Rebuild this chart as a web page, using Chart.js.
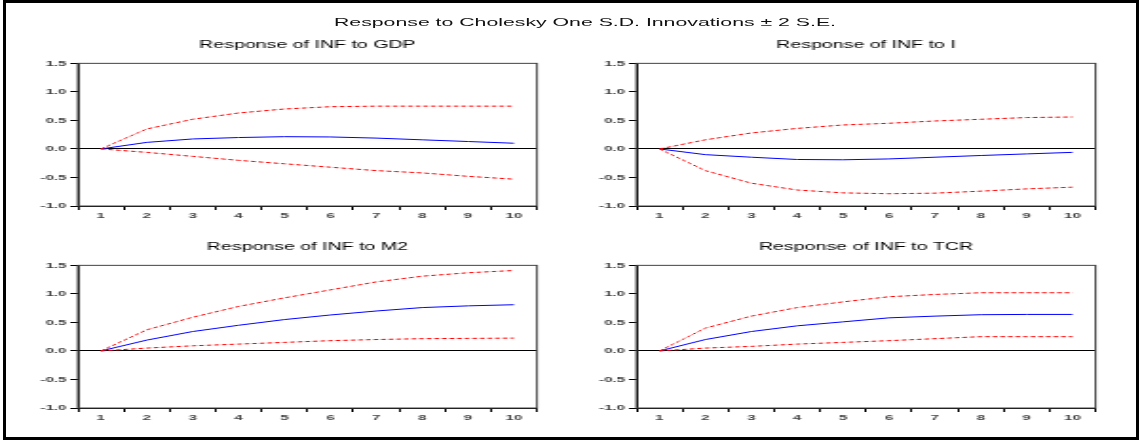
<!DOCTYPE html>
<html>
<head>
<meta charset="utf-8">
<script src="https://cdn.jsdelivr.net/npm/chart.js@4.4.1/dist/chart.umd.min.js"></script>
<style>
  html, body { margin: 0; padding: 0; background: #fff; }
  body { width: 1144px; height: 442px; position: relative; overflow: hidden; }
  #frame { position: absolute; left: 3px; top: 0; width: 1130px; height: 434px; border: 3px solid #000; }
  #stage { position: absolute; left: 0; top: 0; height: 442px; transform-origin: 0 0; }
  #title { position: absolute; top: 16px; white-space: nowrap; transform: translateX(-50%);
           font: 11.2px Arial, "Liberation Sans", sans-serif; color: #111; line-height: 13px; }
  .panel { position: absolute; }
</style>
</head>
<body>
<div id="frame"></div>
<div id="stage">
  <div id="title">Response to Cholesky One S.D. Innovations ± 2 S.E.</div>
</div>
<script>
// horizontal stretch of the original figure
const SX = 1.9;

const periods = ['1', '2', '3', '4', '5', '6', '7', '8', '9', '10'];

// Response of INF to GDP
const gdpResp  = [0, 0.115, 0.175, 0.20, 0.215, 0.21, 0.19, 0.16, 0.13, 0.10];
const gdpUpper = [0, 0.35, 0.52, 0.63, 0.70, 0.74, 0.75, 0.75, 0.75, 0.75];
const gdpLower = [0, -0.06, -0.13, -0.20, -0.26, -0.32, -0.38, -0.42, -0.48, -0.53];

// Response of INF to I
const iResp  = [0, -0.10, -0.145, -0.185, -0.19, -0.175, -0.145, -0.115, -0.087, -0.06];
const iUpper = [0, 0.16, 0.28, 0.36, 0.42, 0.45, 0.49, 0.52, 0.55, 0.56];
const iLower = [0, -0.38, -0.60, -0.72, -0.77, -0.785, -0.775, -0.74, -0.70, -0.67];

// Response of INF to M2
const m2Resp  = [0, 0.19, 0.34, 0.45, 0.55, 0.63, 0.70, 0.76, 0.79, 0.81];
const m2Upper = [0, 0.37, 0.59, 0.78, 0.93, 1.07, 1.21, 1.31, 1.37, 1.41];
const m2Lower = [0, 0.05, 0.09, 0.12, 0.15, 0.18, 0.20, 0.215, 0.22, 0.225];

// Response of INF to TCR
const tcrResp  = [0, 0.20, 0.34, 0.44, 0.51, 0.58, 0.61, 0.635, 0.64, 0.64];
const tcrUpper = [0, 0.40, 0.61, 0.76, 0.86, 0.95, 0.99, 1.02, 1.02, 1.02];
const tcrLower = [0, 0.05, 0.08, 0.12, 0.15, 0.18, 0.215, 0.25, 0.25, 0.25];

const yMin = -1.0, yMax = 1.5, yStep = 0.5;

// plot boxes in page pixels: left, top, right, bottom
const panels = [
  { title: 'Response of INF to GDP', resp: gdpResp, upper: gdpUpper, lower: gdpLower, box: [77, 62.7, 536, 205.7] },
  { title: 'Response of INF to I',   resp: iResp,   upper: iUpper,   lower: iLower,   box: [637, 62.7, 1096, 205.7] },
  { title: 'Response of INF to M2',  resp: m2Resp,  upper: m2Upper,  lower: m2Lower,  box: [77, 265, 536, 408] },
  { title: 'Response of INF to TCR', resp: tcrResp, upper: tcrUpper, lower: tcrLower, box: [637, 265, 1096, 408] }
];

Chart.defaults.font.family = 'Arial, "Liberation Sans", sans-serif';

const stage = document.getElementById('stage');
stage.style.width = (1144 / SX) + 'px';
stage.style.transform = 'scaleX(' + SX + ')';
document.getElementById('title').style.left = (585 / SX) + 'px';

const frameBox = {
  id: 'frameBox',
  afterDraw(chart) {
    const a = chart.chartArea, ctx = chart.ctx;
    ctx.save();
    ctx.strokeStyle = '#444';
    ctx.lineWidth = 1;
    ctx.strokeRect(a.left, a.top, a.right - a.left, a.bottom - a.top);
    ctx.restore();
  }
};

panels.forEach(p => {
  const [x0, y0, x1, y1] = p.box;
  const L = x0 / SX, W = (x1 - x0) / SX;
  const padL = 30, padTop = 4, titleH = 24, axisH = 20;
  const cw = Math.round(W + padL + 27);
  const padR = cw - padL - W;
  const ch = Math.round(y1 - y0 + padTop + titleH + axisH);

  const div = document.createElement('div');
  div.className = 'panel';
  div.style.left = (L - padL) + 'px';
  div.style.top = (y1 + axisH - ch) + 'px';
  const canvas = document.createElement('canvas');
  canvas.width = cw;
  canvas.height = ch;
  div.appendChild(canvas);
  stage.appendChild(div);

  const red = { borderColor: '#ff0000', borderWidth: 1, borderDash: [2.5, 1.5], pointRadius: 0, tension: 0, fill: false };

  new Chart(canvas, {
    type: 'line',
    data: {
      labels: periods,
      datasets: [
        Object.assign({ label: 'upper', data: p.upper }, red),
        Object.assign({ label: 'lower', data: p.lower }, red),
        { label: 'response', data: p.resp, borderColor: '#0000ff', borderWidth: 1, pointRadius: 0, tension: 0, fill: false }
      ]
    },
    options: {
      responsive: false,
      animation: false,
      events: [],
      layout: { padding: { top: padTop, right: padR, bottom: 0, left: 0 } },
      plugins: {
        legend: { display: false },
        tooltip: { enabled: false },
        title: {
          display: true,
          fullSize: false,
          text: p.title,
          color: '#000',
          font: { size: 10.3, weight: 'normal' },
          padding: { top: 0, bottom: 12 }
        }
      },
      scales: {
        x: {
          type: 'category',
          offset: true,
          grid: { offset: true, drawOnChartArea: false, drawTicks: true, tickLength: 4, color: '#000', tickColor: '#000' },
          border: { color: '#000', width: 1 },
          ticks: { font: { size: 8, weight: 'bold' }, color: '#444', padding: 1, maxRotation: 0, autoSkip: false },
          afterFit(s) { s.height = axisH; }
        },
        y: {
          min: yMin,
          max: yMax,
          grid: {
            drawTicks: true,
            tickLength: 4,
            tickColor: '#000',
            color: ctx => (ctx.tick && ctx.tick.value === 0) ? '#000' : 'rgba(0,0,0,0)'
          },
          border: { color: '#000', width: 1 },
          ticks: { stepSize: yStep, font: { size: 8, weight: 'bold' }, color: '#444', padding: 2, callback: v => Number(v).toFixed(1) },
          afterFit(s) { s.width = padL; }
        }
      }
    },
    plugins: [frameBox]
  });
});
</script>
</body>
</html>
